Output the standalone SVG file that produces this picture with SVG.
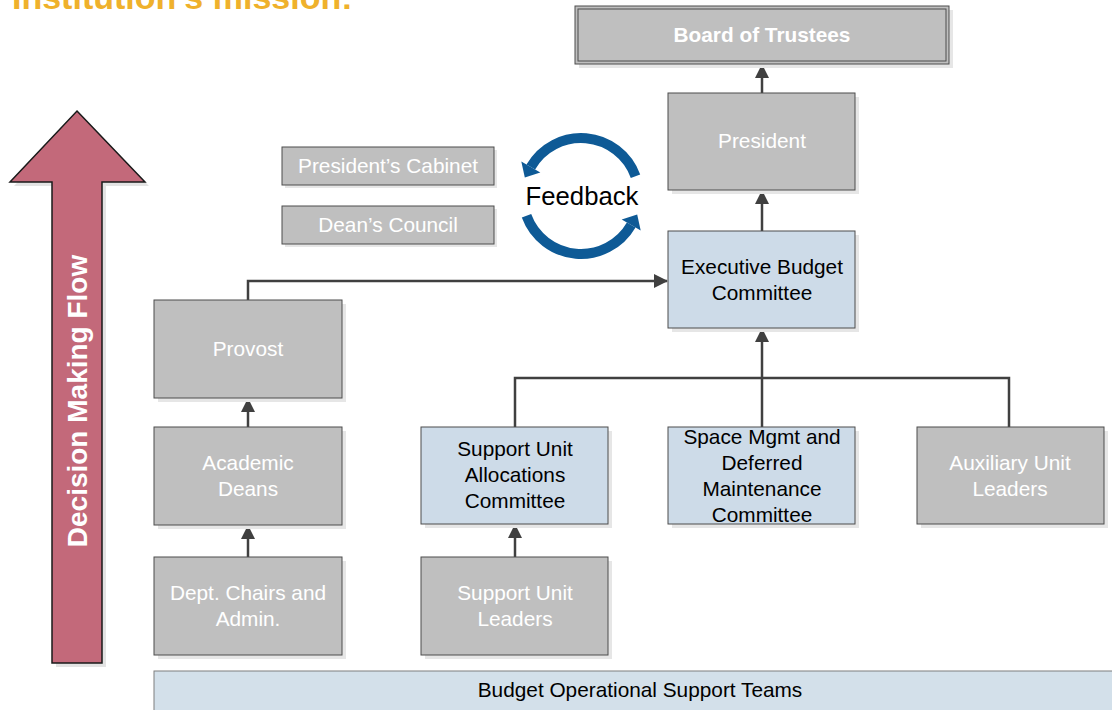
<svg xmlns="http://www.w3.org/2000/svg" width="1112" height="710" viewBox="0 0 1112 710">
<defs>
<style>
.g{fill:#bfbfbf;stroke:#4d4d4d;stroke-width:1}
.b{fill:#cddbe8;stroke:#4d4d4d;stroke-width:1}
.sh{fill:#e6e6e6}
.tw{font-family:"Liberation Sans",Arial,sans-serif;font-size:20.8px;fill:#ffffff;text-anchor:middle}
.tk{font-family:"Liberation Sans",Arial,sans-serif;font-size:20.8px;fill:#000000;text-anchor:middle}
.c{fill:none;stroke:#404040;stroke-width:2.5}
.fb{fill:none;stroke:#0e5a96;stroke-width:10}
</style>
<marker id="ah" markerUnits="userSpaceOnUse" markerWidth="14" markerHeight="14" viewBox="0 0 14 14" refX="13" refY="7" orient="auto">
<path d="M0,0 L14,7 L0,14 Z" fill="#404040"/>
</marker>
</defs>
<rect width="1112" height="710" fill="#ffffff"/>
<text x="12" y="9" font-family="Liberation Sans,Arial,sans-serif" font-weight="bold" font-size="34" fill="#efb12c">Institution's mission:</text>

<g id="decision-flow">
<polygon points="81,116 149,186 106,186 106,667 56,667 56,186 14,186" fill="#e3e3e3"/>
<polygon points="77,111 145,182 102,182 102,663 52,663 52,182 10,182" fill="#c3697a" stroke="#1a1a1a" stroke-width="1.5"/>
<text transform="translate(87,401) rotate(-90)" font-family="Liberation Sans,Arial,sans-serif" font-weight="bold" font-size="28" fill="#ffffff" text-anchor="middle">Decision Making Flow</text>
</g>

<g id="connectors">
<path class="c" d="M762,93 V65" marker-end="url(#ah)"/>
<path class="c" d="M762,231 V191" marker-end="url(#ah)"/>
<path class="c" d="M248,300 V281 H667" marker-end="url(#ah)"/>
<path class="c" d="M762,427 V329" marker-end="url(#ah)"/>
<path class="c" d="M515,427 V378 H1009 V427"/>
<path class="c" d="M248,427 V399" marker-end="url(#ah)"/>
<path class="c" d="M248,557 V526" marker-end="url(#ah)"/>
<path class="c" d="M515,557 V525" marker-end="url(#ah)"/>
</g>

<g id="board">
<rect class="sh" x="579" y="10" width="374" height="58"/>
<rect x="575" y="6" width="374" height="58" fill="#bfbfbf" stroke="#4d4d4d" stroke-width="1"/>
<rect x="578" y="9" width="368" height="52" fill="none" stroke="#4d4d4d" stroke-width="1"/>
<text class="tw" x="762" y="42" font-weight="bold">Board of Trustees</text>
</g>

<g id="president">
<rect class="sh" x="672" y="97" width="187" height="97"/>
<rect class="g" x="668" y="93" width="187" height="97"/>
<text class="tw" x="762" y="148">President</text>
</g>

<g id="exec">
<rect class="sh" x="672" y="235" width="187" height="97"/>
<rect class="b" x="668" y="231" width="187" height="97"/>
<text class="tk" x="762" y="274">Executive Budget</text>
<text class="tk" x="762" y="300">Committee</text>
</g>

<g id="cabinet">
<rect class="sh" x="285" y="150" width="212" height="38"/>
<rect class="g" x="282" y="147" width="212" height="38"/>
<text class="tw" x="388" y="173">President’s Cabinet</text>
</g>

<g id="deans-council">
<rect class="sh" x="285" y="209" width="212" height="38"/>
<rect class="g" x="282" y="206" width="212" height="38"/>
<text class="tw" x="388" y="232">Dean’s Council</text>
</g>

<g id="feedback">
<path class="fb" d="M635.5,176.2 A58,58 0 0 0 530.8,167"/>
<polygon points="524.8,177.4 540.3,172.5 521.3,161.5" fill="#0e5a96"/>
<path class="fb" d="M526.5,215.8 A58,58 0 0 0 631.2,225"/>
<polygon points="637.2,214.6 640.7,230.5 621.7,219.5" fill="#0e5a96"/>
<text x="582" y="205" font-family="Liberation Sans,Arial,sans-serif" font-size="25.7" fill="#000000" text-anchor="middle">Feedback</text>
</g>

<g id="provost">
<rect class="sh" x="158" y="304" width="188" height="98"/>
<rect class="g" x="154" y="300" width="188" height="98"/>
<text class="tw" x="248" y="356">Provost</text>
</g>

<g id="academic-deans">
<rect class="sh" x="158" y="431" width="188" height="98"/>
<rect class="g" x="154" y="427" width="188" height="98"/>
<text class="tw" x="248" y="470">Academic</text>
<text class="tw" x="248" y="496">Deans</text>
</g>

<g id="dept-chairs">
<rect class="sh" x="158" y="561" width="188" height="98"/>
<rect class="g" x="154" y="557" width="188" height="98"/>
<text class="tw" x="248" y="600">Dept. Chairs and</text>
<text class="tw" x="248" y="626">Admin.</text>
</g>

<g id="suac">
<rect class="sh" x="425" y="431" width="187" height="97"/>
<rect class="b" x="421" y="427" width="187" height="97"/>
<text class="tk" x="515" y="456">Support Unit</text>
<text class="tk" x="515" y="482">Allocations</text>
<text class="tk" x="515" y="508">Committee</text>
</g>

<g id="space-mgmt">
<rect class="sh" x="672" y="431" width="187" height="97"/>
<rect class="b" x="668" y="427" width="187" height="97"/>
<text class="tk" x="762" y="444">Space Mgmt and</text>
<text class="tk" x="762" y="470">Deferred</text>
<text class="tk" x="762" y="496">Maintenance</text>
<text class="tk" x="762" y="522">Committee</text>
</g>

<g id="auxiliary">
<rect class="sh" x="921" y="431" width="187" height="97"/>
<rect class="g" x="917" y="427" width="187" height="97"/>
<text class="tw" x="1010" y="470">Auxiliary Unit</text>
<text class="tw" x="1010" y="496">Leaders</text>
</g>

<g id="su-leaders">
<rect class="sh" x="425" y="561" width="187" height="98"/>
<rect class="g" x="421" y="557" width="187" height="98"/>
<text class="tw" x="515" y="600">Support Unit</text>
<text class="tw" x="515" y="626">Leaders</text>
</g>

<g id="budget-ops">
<rect x="154" y="671" width="970" height="45" fill="#d3e0ea" stroke="#7f7f7f" stroke-width="1"/>
<text class="tk" x="640" y="697">Budget Operational Support Teams</text>
</g>
</svg>
